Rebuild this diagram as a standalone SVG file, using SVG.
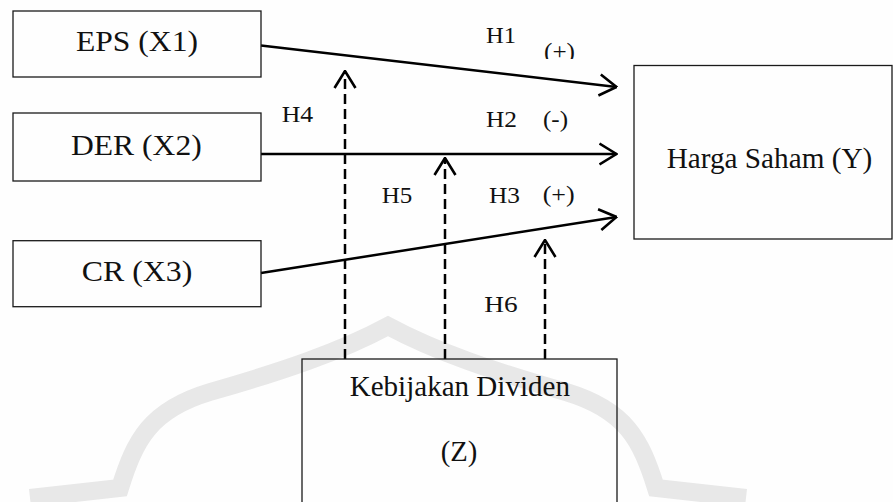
<svg xmlns="http://www.w3.org/2000/svg" width="893" height="502" viewBox="0 0 893 502">
  <style>
    .box { fill: none; stroke: #1a1a1a; stroke-width: 1.3; }
    .big { font-family: "Liberation Serif", "Times New Roman", serif; font-size: 30px; fill: #111; }
    .mid { font-family: "Liberation Serif", "Times New Roman", serif; font-size: 28.5px; fill: #111; }
    .lbl { font-family: "Liberation Serif", "Times New Roman", serif; font-size: 23px; fill: #111; }
    .solid { stroke: #000; stroke-width: 2.5; fill: none; marker-end: url(#chev); }
    .dash { stroke: #000; stroke-width: 2.5; fill: none; stroke-dasharray: 10 5; marker-end: url(#chev); }
    .wm { fill: none; stroke: #e8e8e8; stroke-width: 18; stroke-linejoin: miter; }
  </style>
  <defs>
    <marker id="chev" viewBox="0 0 19 24" refX="18" refY="12" markerWidth="19" markerHeight="24" orient="auto" markerUnits="userSpaceOnUse">
      <path d="M1,1.5 L18,12 L1,22.5" fill="none" stroke="#000" stroke-width="2.6"/>
    </marker>
    <clipPath id="clipH1">
      <rect x="530" y="30" width="60" height="29"/>
    </clipPath>
  </defs>
  <rect x="0" y="0" width="893" height="502" fill="#fefefe"/>

  <g id="watermark">
    <path class="wm" d="M 30 498 L 120 488 C 135 440, 150 410, 210 392 C 280 372, 340 352, 388 326 C 436 352, 496 372, 566 392 C 626 410, 641 440, 656 488 L 746 498"/>
  </g>

  <g id="connectors">
    <line class="solid" x1="261" y1="45.5" x2="616.5" y2="87"/>
    <line class="solid" x1="261" y1="154" x2="616.5" y2="154"/>
    <line class="solid" x1="261" y1="273" x2="616.5" y2="217"/>
    <line class="dash" x1="345" y1="359" x2="345" y2="71"/>
    <line class="dash" x1="445" y1="359" x2="445" y2="158"/>
    <line class="dash" x1="545" y1="359" x2="545" y2="240"/>
    <g id="connector-labels">
      <text class="lbl" x="486" y="43.3" textLength="30" lengthAdjust="spacingAndGlyphs">H1</text>
      <text class="lbl" x="544" y="59" textLength="31" lengthAdjust="spacingAndGlyphs" clip-path="url(#clipH1)">(+)</text>
      <text class="lbl" x="486" y="126.7" textLength="31" lengthAdjust="spacingAndGlyphs">H2</text>
      <text class="lbl" x="543" y="127" textLength="25" lengthAdjust="spacingAndGlyphs">(-)</text>
      <text class="lbl" x="489" y="202.7" textLength="31" lengthAdjust="spacingAndGlyphs">H3</text>
      <text class="lbl" x="542.7" y="202" textLength="32" lengthAdjust="spacingAndGlyphs">(+)</text>
      <text class="lbl" x="281.7" y="121.7" textLength="31.5" lengthAdjust="spacingAndGlyphs">H4</text>
      <text class="lbl" x="381.7" y="203.3" textLength="30.6" lengthAdjust="spacingAndGlyphs">H5</text>
      <text class="lbl" x="484.3" y="312" textLength="33.4" lengthAdjust="spacingAndGlyphs">H6</text>
    </g>
  </g>

  <g id="node-eps">
    <rect class="box" x="13" y="11" width="248" height="66"/>
    <text class="big" x="76" y="51" textLength="122" lengthAdjust="spacingAndGlyphs">EPS (X1)</text>
  </g>
  <g id="node-der">
    <rect class="box" x="13" y="113" width="248" height="68"/>
    <text class="big" x="71" y="155" textLength="130.7" lengthAdjust="spacingAndGlyphs">DER (X2)</text>
  </g>
  <g id="node-cr">
    <rect class="box" x="13" y="240.7" width="248" height="66"/>
    <text class="big" x="81.7" y="280.7" textLength="110.6" lengthAdjust="spacingAndGlyphs">CR (X3)</text>
  </g>
  <g id="node-harga">
    <rect class="box" x="634" y="65.5" width="258" height="173.5"/>
    <text class="mid" x="666.7" y="167.7" textLength="205.6" lengthAdjust="spacingAndGlyphs">Harga Saham (Y)</text>
  </g>
  <g id="node-dividen">
    <rect class="box" x="302" y="359" width="315" height="160"/>
    <text class="mid" x="349.7" y="396" textLength="220.3" lengthAdjust="spacingAndGlyphs">Kebijakan Dividen</text>
    <text class="mid" x="440.7" y="461" textLength="36.6" lengthAdjust="spacingAndGlyphs">(Z)</text>
  </g>
</svg>
